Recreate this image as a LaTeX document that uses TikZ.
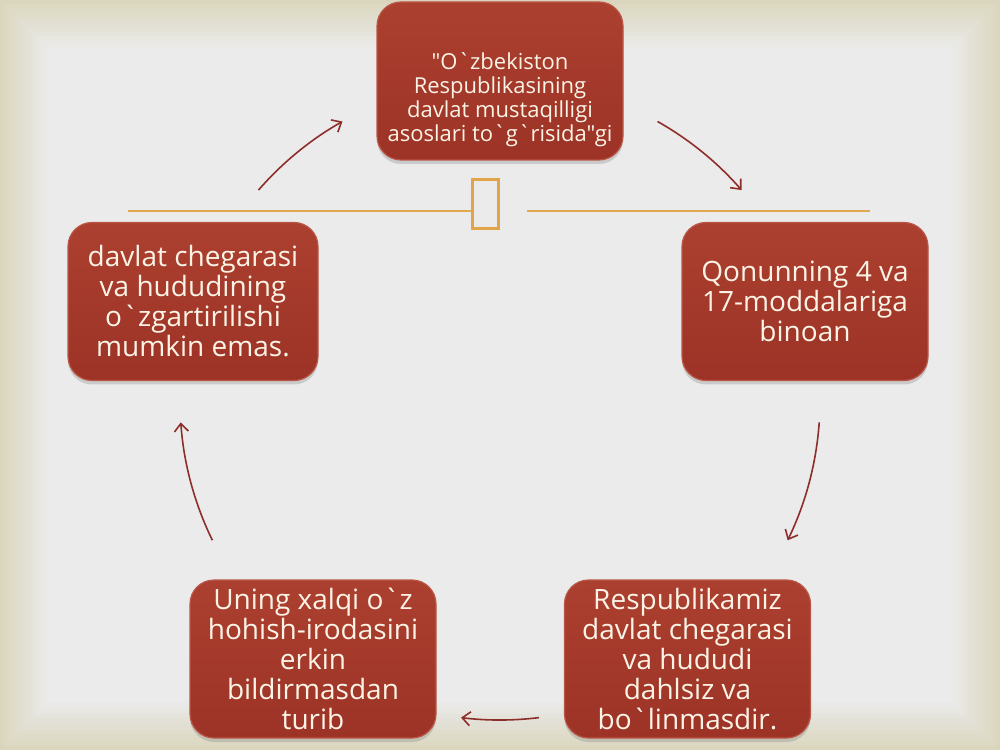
\documentclass[tikz,border=0pt]{standalone}
\usepackage{fontspec}
\setmainfont{Open Sans}[Ligatures=TeXOff]
\usetikzlibrary{arrows.meta,shadows,calc}
\definecolor{bgedge}{HTML}{DAD6BE}
\definecolor{bgin}{HTML}{EBEBEB}
\definecolor{boxtop}{HTML}{AC4030}
\definecolor{boxbot}{HTML}{9C3326}
\definecolor{boxrim}{HTML}{BA5646}
\definecolor{txt}{HTML}{FBF4E6}
\definecolor{arrc}{HTML}{8E2E2A}
\definecolor{orn}{HTML}{E3A347}
\definecolor{ornl}{HTML}{E2A850}
\begin{document}
\begin{tikzpicture}[x=0.5pt,y=0.5pt,
  redbox/.style={rounded corners=12pt, top color=boxtop, bottom color=boxbot,
    draw=boxrim, line width=0.6pt, minimum width=123pt, minimum height=79pt,
    inner sep=2pt, text=txt, align=center, font=\fontsize{14}{15}\selectfont,
    drop shadow={opacity=0.3, shadow xshift=0pt, shadow yshift=-2pt}},
  smalltext/.style={text=txt, align=center, font=\fontsize{11}{12}\selectfont, inner sep=0pt},
  cyc/.style={draw=arrc, line width=0.8pt, -{Straight Barb[length=4pt,width=7pt]}},
  ornline/.style={draw=ornl, line width=1pt}]
\useasboundingbox (0,0) rectangle (1000,750);
% background vignette
\foreach \i in {0,...,12}{
  \pgfmathtruncatemacro\p{100-\i*100/12}
  \fill[bgedge!\p!bgin] (\i*4,\i*4) rectangle (1000-\i*4,750-\i*4);
}
% boxes
\node[redbox] (top) at (500,669) {};
\node[smalltext] (toptext) at (500,650) {"O`zbekiston\\Respublikasining\\davlat mustaqilligi\\asoslari to`g`risida"gi};
\node[redbox] (right) at (805,448.5) {Qonunning 4 va\\17-moddalariga\\binoan};
\node[redbox] (bright) at (687.5,91) {Respublikamiz\\davlat chegarasi\\va hududi\\dahlsiz va\\bo`linmasdir.};
\node[redbox] (bleft) at (313,91) {Uning xalqi o`z\\hohish-irodasini\\erkin\\bildirmasdan\\turib};
\node[redbox, minimum width=125pt] (left) at (193,448.5) {davlat chegarasi\\va hududining\\o`zgartirilishi\\mumkin emas.};
% ornament
\node[draw=orn, line width=1.5pt, minimum width=13pt, minimum height=24.5pt, inner sep=0pt] (glyph) at (485.5,546) {};
\coordinate (ll) at (128,538.5);
\coordinate (rl) at (870,538.5);
\coordinate (rs) at (527,538.5);
\draw[ornline] (ll) -- (ll -| glyph.west);
\draw[ornline] (rs) -- (rl);
% cycle arrows
\coordinate (o) at (500,350);
\coordinate (a1) at ($(o)+(139:160pt)$);
\coordinate (a2) at ($(o)+(60.5:160pt)$);
\coordinate (a3) at ($(o)+(-4:160pt)$);
\coordinate (a4) at ($(o)+(-83:160pt)$);
\coordinate (a5) at ($(o)+(206:160pt)$);
\draw[cyc] (a1) arc[start angle=139, end angle=119.5, radius=160pt];
\draw[cyc] (a2) arc[start angle=60.5, end angle=41, radius=160pt];
\draw[cyc] (a3) arc[start angle=-4, end angle=-26, radius=160pt];
\draw[cyc] (a4) arc[start angle=-83, end angle=-97, radius=160pt];
\draw[cyc] (a5) arc[start angle=206, end angle=184, radius=160pt];
\end{tikzpicture}
\end{document}
